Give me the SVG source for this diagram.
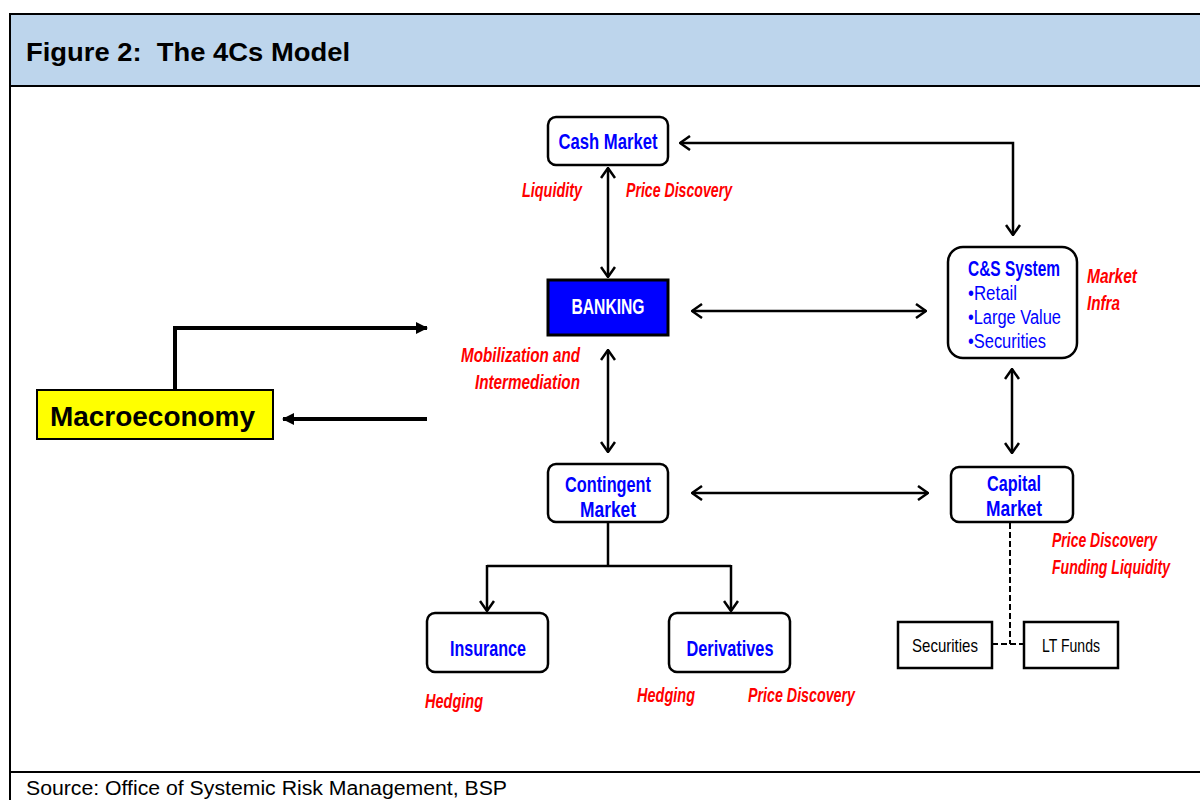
<svg xmlns="http://www.w3.org/2000/svg" width="1200" height="800" viewBox="0 0 1200 800">
<style>
.frame{stroke:#000;stroke-width:2;fill:none}
.box{fill:#fff;stroke:#000;stroke-width:2.5}
.t{font-family:"Liberation Sans",Arial,sans-serif;font-weight:bold;font-size:22px;fill:#0000FF;text-anchor:middle}
.r{font-family:"Liberation Sans",Arial,sans-serif;font-weight:bold;font-style:italic;font-size:19.5px;fill:#FF0000}
.b{font-family:"Liberation Sans",Arial,sans-serif;font-size:20px;fill:#0000FF}
.k{font-family:"Liberation Sans",Arial,sans-serif;font-size:19px;fill:#000;text-anchor:middle}
.c{stroke:#000;stroke-width:2.5;fill:none}
.oa{marker-start:url(#open);marker-end:url(#open)}
.oe{marker-end:url(#open)}
</style>
<defs>
<marker id="open" viewBox="0 0 12 16" refX="11" refY="8" markerWidth="12" markerHeight="16" markerUnits="userSpaceOnUse" orient="auto-start-reverse">
<path d="M1,1 L11,8 L1,15" fill="none" stroke="#000" stroke-width="2.5" stroke-linejoin="miter"/>
</marker>
<marker id="solid" viewBox="0 0 12 12" refX="11" refY="6" markerWidth="12" markerHeight="12" markerUnits="userSpaceOnUse" orient="auto">
<path d="M0,0 L12,6 L0,12 Z" fill="#000"/>
</marker>
</defs>
<rect x="0" y="0" width="1200" height="800" fill="#fff"/>
<g id="frame">
<rect x="10" y="14" width="1192" height="72" fill="#BDD5EC"/>
<line x1="10" y1="14" x2="1200" y2="14" class="frame"/>
<line x1="10" y1="86" x2="1200" y2="86" class="frame"/>
<line x1="10" y1="772" x2="1200" y2="772" class="frame"/>
<line x1="10" y1="13" x2="10" y2="800" class="frame"/>
<text x="26" y="61" xml:space="preserve" font-family="Liberation Sans, Arial, sans-serif" font-weight="bold" font-size="25" fill="#000" textLength="324" lengthAdjust="spacingAndGlyphs">Figure 2:  The 4Cs Model</text>
<text x="26" y="795" font-family="Liberation Sans, Arial, sans-serif" font-size="19.5" fill="#000" textLength="481" lengthAdjust="spacingAndGlyphs">Source: Office of Systemic Risk Management, BSP</text>
</g>
<g id="connectors">
<line x1="608" y1="168" x2="608" y2="277" class="c oa"/>
<line x1="692" y1="311" x2="926" y2="311" class="c oa"/>
<line x1="608" y1="350" x2="608" y2="452" class="c oa"/>
<line x1="692" y1="493" x2="928" y2="493" class="c oa"/>
<path d="M1013,235 V143 H680" class="c oa"/>
<line x1="1012" y1="369" x2="1012" y2="453" class="c oa"/>
<line x1="608" y1="523" x2="608" y2="566" class="c"/>
<path d="M487,566 H731" class="c"/>
<line x1="487" y1="565" x2="487" y2="611" class="c oe"/>
<line x1="731" y1="565" x2="731" y2="611" class="c oe"/>
<path d="M1010,523 V644 M992,644 H1024" fill="none" stroke="#000" stroke-width="2" stroke-dasharray="6,3"/>
<path d="M175,390 V328 H427" fill="none" stroke="#000" stroke-width="4" marker-end="url(#solid)"/>
<line x1="427" y1="419" x2="283" y2="419" stroke="#000" stroke-width="4" marker-end="url(#solid)"/>
</g>
<g id="cash-market">
<rect x="548" y="117" width="120" height="48" rx="8" class="box"/>
<text x="608" y="149" class="t" textLength="99" lengthAdjust="spacingAndGlyphs">Cash Market</text>
</g>
<g id="banking">
<rect x="548" y="280" width="120" height="55" fill="#0000FF" stroke="#000" stroke-width="3"/>
<text x="608" y="314" class="t" style="fill:#fff" textLength="73" lengthAdjust="spacingAndGlyphs">BANKING</text>
</g>
<g id="contingent-market">
<rect x="548" y="464" width="120" height="58" rx="8" class="box"/>
<text x="608" y="492" class="t" textLength="86" lengthAdjust="spacingAndGlyphs">Contingent</text>
<text x="608" y="517" class="t" textLength="56" lengthAdjust="spacingAndGlyphs">Market</text>
</g>
<g id="insurance">
<rect x="427" y="613" width="121" height="59" rx="8" class="box"/>
<text x="488" y="656" class="t" textLength="76" lengthAdjust="spacingAndGlyphs">Insurance</text>
</g>
<g id="derivatives">
<rect x="669" y="613" width="121" height="59" rx="8" class="box"/>
<text x="730" y="656" class="t" textLength="87" lengthAdjust="spacingAndGlyphs">Derivatives</text>
</g>
<g id="cs-system">
<rect x="948" y="247" width="129" height="111" rx="15" class="box"/>
<text x="0" y="0" transform="translate(1014,276) scale(0.702,1)" class="t" textLength="131" lengthAdjust="spacingAndGlyphs">C&amp;S System</text>
<text x="968" y="300" class="b" textLength="49" lengthAdjust="spacingAndGlyphs">•Retail</text>
<text x="968" y="324" class="b" textLength="93" lengthAdjust="spacingAndGlyphs">•Large Value</text>
<text x="968" y="348" class="b" textLength="78" lengthAdjust="spacingAndGlyphs">•Securities</text>
</g>
<g id="capital-market">
<rect x="951" y="467" width="122" height="55" rx="8" class="box"/>
<text x="1014" y="491" class="t" textLength="54" lengthAdjust="spacingAndGlyphs">Capital</text>
<text x="1014" y="516" class="t" textLength="56" lengthAdjust="spacingAndGlyphs">Market</text>
</g>
<g id="securities">
<rect x="898" y="622" width="94" height="46" fill="#fff" stroke="#000" stroke-width="2.5"/>
<text x="945" y="652" class="k" textLength="66" lengthAdjust="spacingAndGlyphs">Securities</text>
</g>
<g id="lt-funds">
<rect x="1024" y="622" width="94" height="46" fill="#fff" stroke="#000" stroke-width="2.5"/>
<text x="1071" y="652" class="k" textLength="58" lengthAdjust="spacingAndGlyphs">LT Funds</text>
</g>
<g id="macroeconomy">
<rect x="37" y="390" width="236" height="49" fill="#FFFF00" stroke="#000" stroke-width="2"/>
<text x="50" y="426" font-family="Liberation Sans, Arial, sans-serif" font-weight="bold" font-size="27" fill="#000" textLength="205" lengthAdjust="spacingAndGlyphs">Macroeconomy</text>
</g>
<g id="labels">
<text x="522" y="197" class="r" textLength="60" lengthAdjust="spacingAndGlyphs">Liquidity</text>
<text x="626" y="197" class="r" textLength="106" lengthAdjust="spacingAndGlyphs">Price Discovery</text>
<text x="461" y="362" class="r" textLength="119" lengthAdjust="spacingAndGlyphs">Mobilization and</text>
<text x="475" y="389" class="r" textLength="105" lengthAdjust="spacingAndGlyphs">Intermediation</text>
<text x="1087" y="283" class="r" textLength="50" lengthAdjust="spacingAndGlyphs">Market</text>
<text x="1087" y="310" class="r" textLength="33" lengthAdjust="spacingAndGlyphs">Infra</text>
<text x="1052" y="547" class="r" textLength="105" lengthAdjust="spacingAndGlyphs">Price Discovery</text>
<text x="0" y="0" transform="translate(1052,574) scale(0.721,1)" class="r" textLength="163.6" lengthAdjust="spacingAndGlyphs">Funding Liquidity</text>
<text x="425" y="708" class="r" textLength="58" lengthAdjust="spacingAndGlyphs">Hedging</text>
<text x="637" y="702" class="r" textLength="58" lengthAdjust="spacingAndGlyphs">Hedging</text>
<text x="748" y="702" class="r" textLength="107" lengthAdjust="spacingAndGlyphs">Price Discovery</text>
</g>
</svg>
